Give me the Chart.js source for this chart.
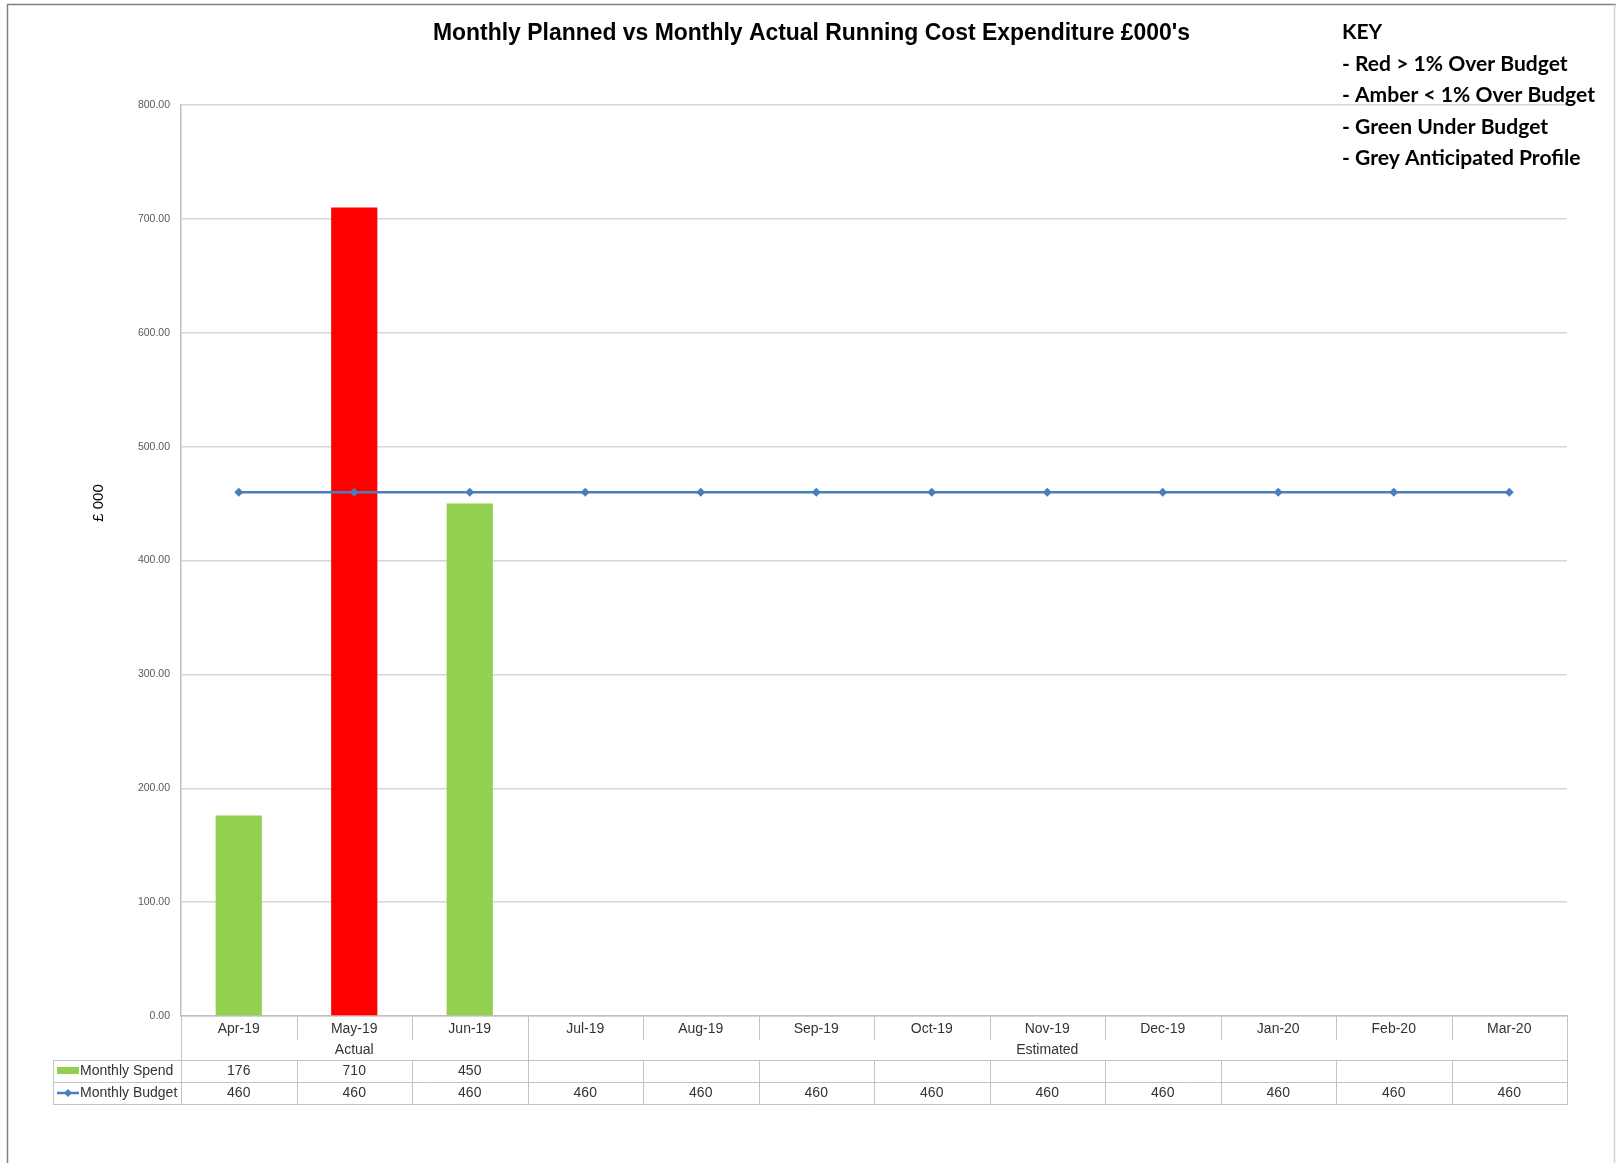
<!DOCTYPE html>
<html><head><meta charset="utf-8">
<script src="https://cdn.jsdelivr.net/npm/chart.js@4.4.0/dist/chart.umd.min.js"></script>
<style>html,body{margin:0;padding:0;background:#fff;overflow:hidden}canvas{display:block}</style>
</head><body>
<canvas id="c" width="1616" height="1163"></canvas>
<script>
const titleText = "Monthly Planned vs Monthly Actual Running Cost Expenditure £000's";
const keyLines = ["KEY", "- Red > 1% Over Budget", "- Amber < 1% Over Budget", "- Green Under Budget", "- Grey Anticipated Profile"];
const yAxisTitle = "£ 000";
const categories = ["Apr-19","May-19","Jun-19","Jul-19","Aug-19","Sep-19","Oct-19","Nov-19","Dec-19","Jan-20","Feb-20","Mar-20"];
const seriesNames = ["Monthly Spend", "Monthly Budget"];
const monthlySpend = [176, 710, 450, null, null, null, null, null, null, null, null, null];
const monthlyBudget = [460, 460, 460, 460, 460, 460, 460, 460, 460, 460, 460, 460];
const spendColours = ["#92D050", "#FF0000", "#92D050"];
const groupLabels = ["Actual", "Estimated"];
const groupStarts = [0, 3];
const groupEnds = [2, 11];
const yMin = 0, yMax = 800, yStep = 100;

const BAR_GREEN = "#92D050";
const LINE_BLUE = "#4A7EBB";
const TEXT = "#333333";
const TABLE_LINE = "#c4c4c4";

const decorPlugin = {
  id: 'decor',
  beforeDraw(chart) {
    const ctx = chart.ctx;
    ctx.save();
    ctx.fillStyle = '#ffffff';
    ctx.fillRect(0, 0, chart.width, chart.height);
    ctx.restore();
  },
  afterDraw(chart) {
    const ctx = chart.ctx;
    const xs = chart.scales.x;
    const ys = chart.scales.y;
    const n = categories.length;
    const bottom = ys.bottom;
    const sepEnd = 1040, r0 = 1060, r1 = 1082, r2 = 1104, tLeft = 53;
    const bnd = i => xs.getPixelForValue(i - 0.5);
    const ctr = i => xs.getPixelForValue(i);
    ctx.save();

    // outer frame
    ctx.lineWidth = 1.5;
    ctx.strokeStyle = '#808080';
    ctx.beginPath();
    ctx.moveTo(7.5, 1163); ctx.lineTo(7.5, 4.5); ctx.lineTo(1616, 4.5);
    ctx.stroke();
    ctx.strokeStyle = '#d4d4d4';
    ctx.beginPath(); ctx.moveTo(1614.5, 4.5); ctx.lineTo(1614.5, 1163); ctx.stroke();

    // title (compressed to match narrow face)
    ctx.fillStyle = '#000';
    ctx.font = 'bold 23px "Liberation Sans", Arial, sans-serif';
    ctx.textAlign = 'center';
    ctx.textBaseline = 'alphabetic';
    let w = ctx.measureText(titleText).width;
    ctx.save();
    ctx.translate(811.5, 40);
    ctx.scale(757 / w, 1);
    ctx.fillText(titleText, 0, 0);
    ctx.restore();

    // key
    ctx.font = 'bold 20px Lato, "Open Sans", sans-serif';
    ctx.textAlign = 'left';
    const kw = ctx.measureText(keyLines[2]).width;
    const ks = 253 / kw;
    keyLines.forEach((t, i) => {
      ctx.save();
      ctx.translate(1342, 39 + i * 31.5);
      ctx.scale(ks, 1);
      ctx.fillText(t, 0, 0);
      ctx.restore();
    });

    // y axis title
    ctx.save();
    ctx.translate(99, 503);
    ctx.rotate(-Math.PI / 2);
    ctx.font = '15px "Liberation Sans", Arial, sans-serif';
    ctx.textAlign = 'center';
    ctx.textBaseline = 'middle';
    ctx.fillStyle = '#000';
    ctx.fillText(yAxisTitle, 0, 0);
    ctx.restore();

    // category separators and table lines
    ctx.strokeStyle = TABLE_LINE;
    ctx.lineWidth = 1;
    const vline = (x, y1, y2) => { ctx.beginPath(); ctx.moveTo(Math.round(x) + 0.5, y1); ctx.lineTo(Math.round(x) + 0.5, y2); ctx.stroke(); };
    const hline = (y, x1, x2) => { ctx.beginPath(); ctx.moveTo(x1, y + 0.5); ctx.lineTo(x2, y + 0.5); ctx.stroke(); };
    for (let i = 1; i < n; i++) {
      const x = bnd(i);
      if (groupStarts.includes(i)) {
        vline(x, bottom, r2);
      } else {
        vline(x, bottom, sepEnd);
        vline(x, r0, r2);
      }
    }
    vline(bnd(0), bottom, r2);
    vline(bnd(n), bottom, r2);
    vline(tLeft, r0, r2);
    [r0, r1, r2].forEach(y => hline(y, tLeft, bnd(n) + 1));

    // group labels
    ctx.fillStyle = TEXT;
    ctx.font = '14px "Liberation Sans", Arial, sans-serif';
    ctx.textAlign = 'center';
    ctx.textBaseline = 'middle';
    groupLabels.forEach((g, k) => {
      const cx = (bnd(groupStarts[k]) + bnd(groupEnds[k] + 1)) / 2;
      ctx.fillText(g, cx, 1050);
    });

    // table values
    for (let i = 0; i < n; i++) {
      if (monthlySpend[i] !== null) ctx.fillText(String(monthlySpend[i]), ctr(i), 1071.5);
      if (monthlyBudget[i] !== null) ctx.fillText(String(monthlyBudget[i]), ctr(i), 1093.5);
    }

    // series keys in table
    ctx.textAlign = 'left';
    ctx.fillText(seriesNames[0], 80, 1071.5);
    ctx.fillText(seriesNames[1], 80, 1093.5);
    ctx.fillStyle = BAR_GREEN;
    ctx.fillRect(57, 1067, 22, 7);
    ctx.strokeStyle = LINE_BLUE;
    ctx.lineWidth = 2.5;
    ctx.beginPath(); ctx.moveTo(57, 1093); ctx.lineTo(79, 1093); ctx.stroke();
    ctx.fillStyle = LINE_BLUE;
    ctx.beginPath();
    ctx.moveTo(68, 1089); ctx.lineTo(72, 1093); ctx.lineTo(68, 1097); ctx.lineTo(64, 1093); ctx.closePath();
    ctx.fill();

    ctx.restore();
  }
};

new Chart(document.getElementById('c'), {
  data: {
    labels: categories,
    datasets: [
      {
        type: 'bar',
        label: seriesNames[0],
        data: monthlySpend,
        backgroundColor: spendColours,
        categoryPercentage: 0.8,
        barPercentage: 0.5,
        order: 1
      },
      {
        type: 'line',
        label: seriesNames[1],
        data: monthlyBudget,
        borderColor: LINE_BLUE,
        backgroundColor: LINE_BLUE,
        borderWidth: 2.5,
        pointStyle: 'rectRot',
        pointRadius: 4.5,
        pointBorderWidth: 0,
        tension: 0,
        order: 0
      }
    ]
  },
  options: {
    responsive: false,
    animation: false,
    devicePixelRatio: 1,
    layout: { padding: { left: 0, top: 105, right: 49, bottom: 0 } },
    plugins: { legend: { display: false }, title: { display: false }, tooltip: { enabled: false } },
    scales: {
      x: {
        type: 'category',
        offset: true,
        grid: { display: false, drawTicks: false },
        border: { display: true, color: '#bfbfbf', width: 1.5 },
        ticks: { color: TEXT, font: { family: '"Liberation Sans", Arial, sans-serif', size: 14 }, padding: 5, maxRotation: 0, autoSkip: false },
        afterFit: s => { s.height = 147; }
      },
      y: {
        min: yMin, max: yMax,
        grid: { color: '#d6d6d6', lineWidth: 1.5, drawTicks: false },
        border: { display: true, color: '#bfbfbf', width: 1.5 },
        ticks: { stepSize: yStep, color: '#595959', font: { family: '"Liberation Sans", Arial, sans-serif', size: 10.5 }, padding: 11, callback: v => Number(v).toFixed(2) },
        afterFit: s => { s.width = 181; }
      }
    }
  },
  plugins: [decorPlugin]
});
</script>
</body></html>
